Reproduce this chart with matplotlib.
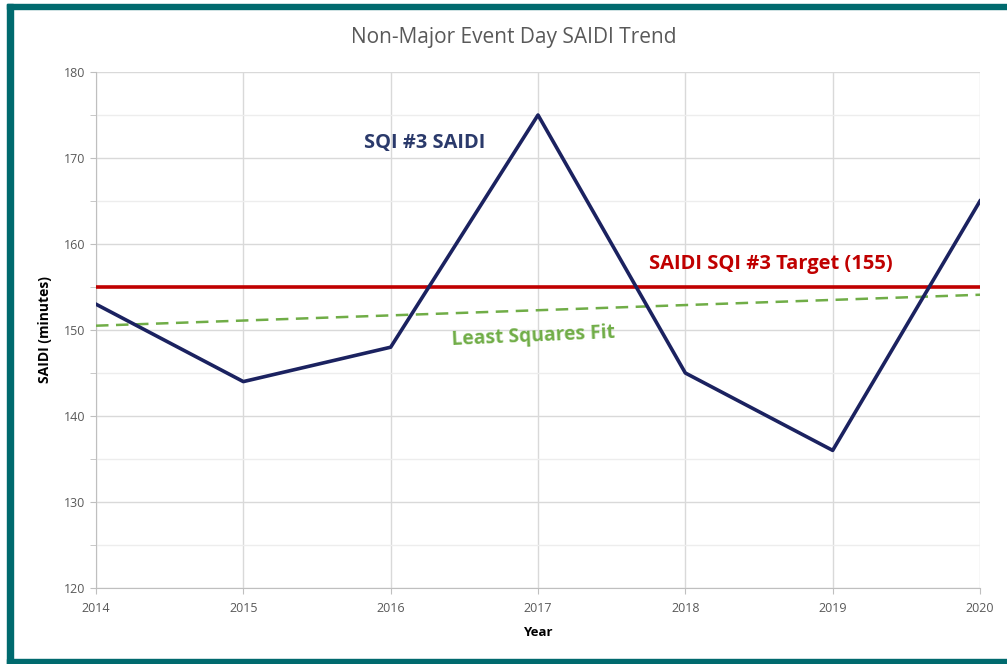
import matplotlib
matplotlib.use("Agg")
import matplotlib.pyplot as plt
from matplotlib.patches import Rectangle
from matplotlib.ticker import MultipleLocator

# data
years = [2014, 2015, 2016, 2017, 2018, 2019, 2020]
saidi = [153, 144, 148, 175, 145, 136, 165]
target = 155
fit_years = [2014, 2020]
fit_vals = [150.5, 154.1]

plt.rcParams['font.family'] = ['Open Sans', 'DejaVu Sans']

fig = plt.figure(figsize=(10.07, 6.64), dpi=100)
ax = fig.add_axes([96/1007, 1-588/664, (980-96)/1007, (588-72)/664])

ax.plot(years, saidi, color='#1B2260', lw=2.6, zorder=4)
ax.axhline(target, color='#C00000', lw=2.6, zorder=3)
ax.plot(fit_years, fit_vals, color='#70AD47', lw=1.8, ls=(0, (5, 3)), zorder=3)

ax.set_xlim(2014, 2020)
ax.set_ylim(120, 180)
ax.set_xticks(years)
ax.yaxis.set_major_locator(MultipleLocator(10))
ax.yaxis.set_minor_locator(MultipleLocator(5))
ax.grid(which='major', color='#D9D9D9', lw=1.0)
ax.grid(which='minor', axis='y', color='#EDEDED', lw=1.0)
ax.set_axisbelow(True)
for s in ['top', 'right']:
    ax.spines[s].set_visible(False)
for s in ['left', 'bottom']:
    ax.spines[s].set_color('#BFBFBF')
ax.tick_params(which='both', colors='#BFBFBF', labelcolor='#595959', labelsize=9, length=4)
ax.tick_params(axis='x', pad=6)

ax.set_xlabel('Year', fontsize=9.5, fontweight='bold', labelpad=8)
ax.set_ylabel('SAIDI (minutes)', fontsize=10, fontweight='bold', labelpad=9)

ax.text(2016.23, 171.7, 'SQI #3 SAIDI', color='#2B3A6B', fontsize=14.4, fontweight='bold', ha='center', va='center')
ax.text(2018.58, 157.7, 'SAIDI SQI #3 Target (155)', color='#C00000', fontsize=14.5, fontweight='bold', ha='center', va='center')
ax.text(2016.97, 149.3, 'Least Squares Fit', color='#70AD47', fontsize=13.9, fontweight='bold', ha='center', va='center', rotation=2.5)

fig.text(514/1007, 1-38/664, 'Non-Major Event Day SAIDI Trend', color='#595959', fontsize=15, ha='center', va='center')

# teal frame around the picture
teal = '#006A6E'
fig.patches.append(Rectangle((7/1007, 0), 6/1007, 1-4/664, transform=fig.transFigure, color=teal))
fig.patches.append(Rectangle((7/1007, 1-9/664), 1, 5/664, transform=fig.transFigure, color=teal))
fig.patches.append(Rectangle((7/1007, 0), 1, 5/664, transform=fig.transFigure, color=teal))

fig.savefig('out.png', dpi=100)
